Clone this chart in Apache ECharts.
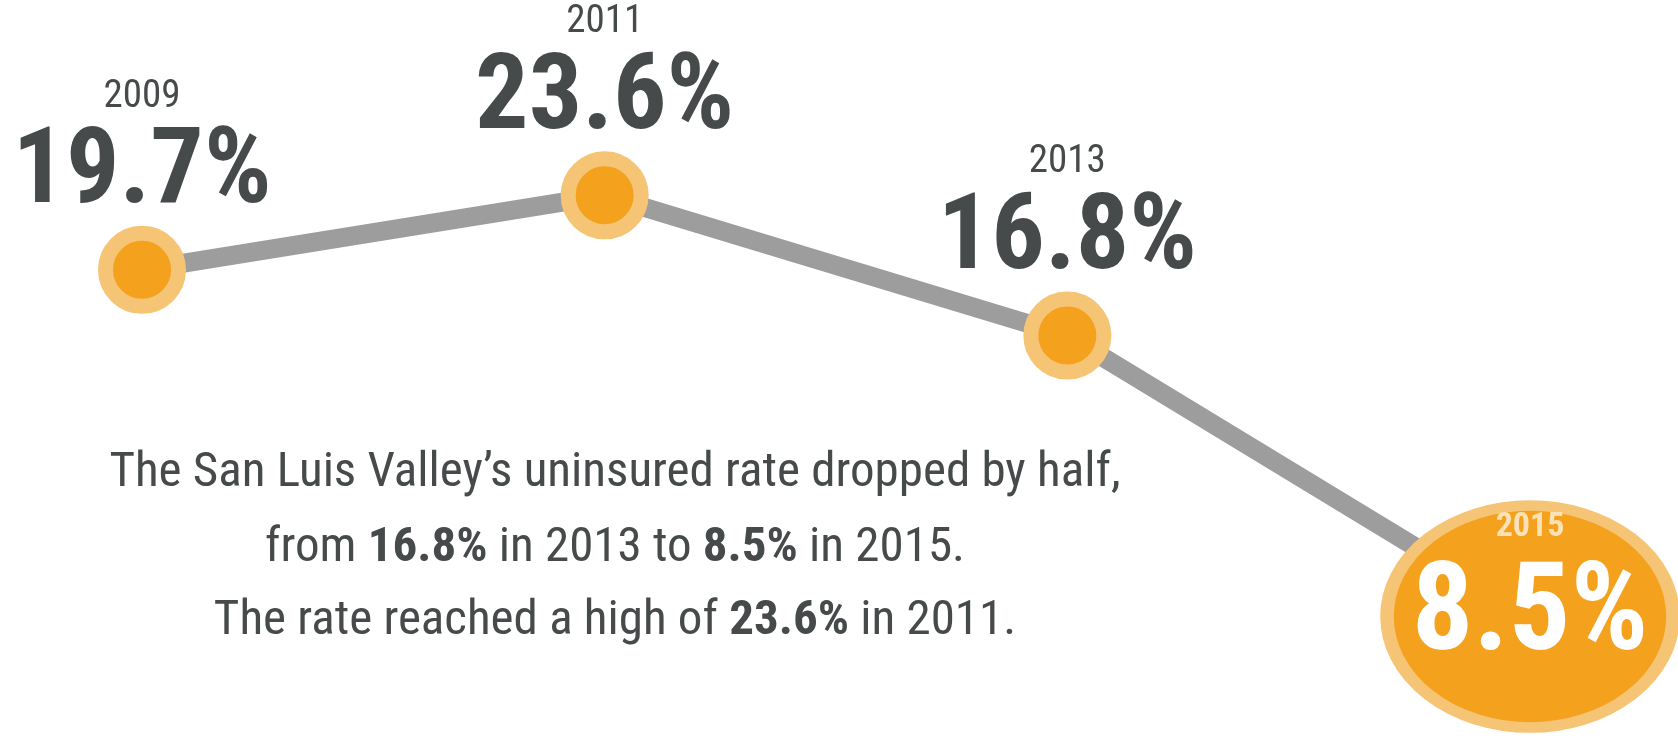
<!DOCTYPE html>
<html><head><meta charset="utf-8">
<script src="https://cdn.jsdelivr.net/npm/echarts@6/dist/echarts.min.js"></script>
<style>html,body{margin:0;padding:0;background:#fff}#c{width:1678px;height:742px}</style>
</head><body><div id="c"></div>
<script>
const years = ['2009', '2011', '2013', '2015'];
const rates = [19.7, 23.6, 16.8, 8.5];
const noteLines = [
  'The San Luis Valley\u2019s uninsured rate dropped by half,',
  'from {b|16.8%} in 2013 to {b|8.5%} in 2015.',
  'The rate reached a high of {b|23.6%} in 2011.'
];

const FONT = "'Roboto Condensed', 'DejaVu Sans Condensed', sans-serif";
const DARK = '#464a4a';
const ORANGE = '#f4a11e';
const RING = '#f6c475';
const last = rates.length - 1;

const seriesData = rates.map((v, i) => {
  const item = { value: v };
  if (i === last) {
    item.symbolSize = [286, 222];
    item.itemStyle = { borderWidth: 12 };
    item.label = {
      position: 'inside',
      offset: [0, -28],
      formatter: '{y|' + years[i] + '}\n{v|' + v.toFixed(1) + '%}',
      rich: {
        y: { fontFamily: FONT, fontSize: 34, fontWeight: 'bold', color: '#fbe2b6', lineHeight: 60, align: 'center' },
        v: { fontFamily: FONT, fontSize: 122, fontWeight: 'bold', color: '#ffffff', lineHeight: 122, align: 'center' }
      }
    };
  }
  return item;
});

const noteY = [474, 549, 622];
const noteGraphics = noteLines.map((t, i) => ({
  type: 'text',
  x: 615,
  y: noteY[i],
  style: {
    text: t,
    align: 'center',
    verticalAlign: 'middle',
    fontFamily: FONT,
    fontSize: 49,
    fill: DARK,
    rich: {
      b: { fontFamily: FONT, fontSize: 49, fontWeight: 'bold', fill: DARK }
    }
  }
}));

const chart = echarts.init(document.getElementById('c'), null, { renderer: 'canvas' });
chart.setOption({
  animation: false,
  backgroundColor: '#ffffff',
  grid: { left: 142, right: 148, top: 0, bottom: 0 },
  xAxis: { type: 'category', data: years, boundaryGap: false, show: false },
  yAxis: { type: 'log', logBase: 10, min: 6.27, max: 37.9, show: false },
  graphic: noteGraphics,
  series: [{
    type: 'line',
    data: seriesData,
    symbol: 'circle',
    symbolSize: 73,
    lineStyle: { color: '#9d9d9d', width: 19 },
    itemStyle: { color: ORANGE, borderColor: RING, borderWidth: 15 },
    label: {
      show: true,
      position: 'inside',
      offset: [0, -118],
      formatter: (p) => '{y|' + years[p.dataIndex] + '}\n{v|' + p.value.toFixed(1) + '%}',
      rich: {
        y: { fontFamily: FONT, fontSize: 39, color: DARK, lineHeight: 48, align: 'center' },
        v: { fontFamily: FONT, fontSize: 106, fontWeight: 'bold', color: DARK, lineHeight: 110, align: 'center' }
      }
    },
    emphasis: { disabled: true }
  }]
});
</script></body></html>
